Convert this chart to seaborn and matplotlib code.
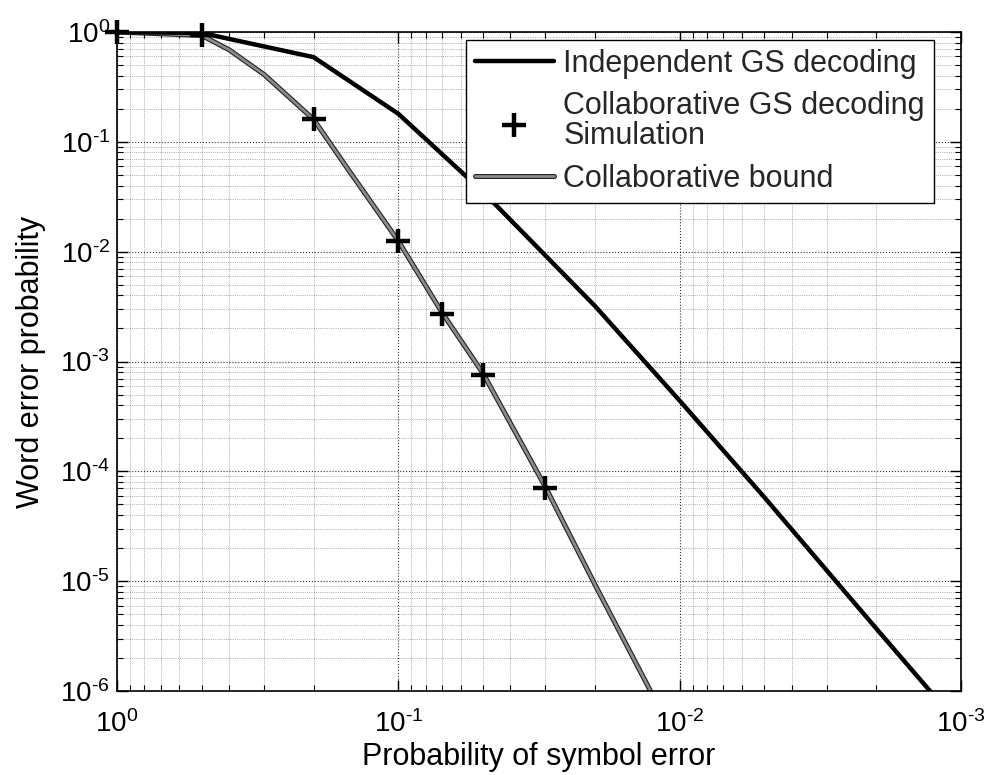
import numpy as np
import pandas as pd
import matplotlib
matplotlib.use("Agg")
import matplotlib.pyplot as plt
import matplotlib.patheffects as pe
from matplotlib.ticker import FixedLocator, FuncFormatter, NullFormatter
import seaborn as sns

# ---- data ----
indep_x = [1.0, 0.5, 0.2, 0.1, 0.05, 0.02, 0.01, 0.005, 0.002, 0.001]
indep_y = [1.0, 0.98, 0.59, 0.18, 0.035, 0.0032, 4.4e-4, 5.8e-5, 3.7e-6, 4.7e-7]

sim_x = [1.0, 0.5, 0.2, 0.1, 0.07, 0.05, 0.03]
sim_y = [1.0, 0.93, 0.16, 0.0126, 0.0027, 7.6e-4, 7.0e-5]

bound_x = [1.0, 0.5, 0.4, 0.3, 0.2, 0.15, 0.1, 0.07, 0.05, 0.03, 0.02, 0.01]
bound_y = [1.0, 0.93, 0.69, 0.41, 0.16, 0.055, 0.0125, 0.0028, 7.8e-4, 7.2e-5, 9.3e-6, 3.1e-7]

x_exponents = [0, -1, -2, -3]
y_exponents = [0, -1, -2, -3, -4, -5, -6]

labels = ["Independent GS decoding",
          "Collaborative GS decoding\nSimulation",
          "Collaborative bound"]
x_label = "Probability of symbol error"
y_label = "Word error probability"

indep = pd.DataFrame({"x": indep_x, "y": indep_y})
sim = pd.DataFrame({"x": sim_x, "y": sim_y})
bound = pd.DataFrame({"x": bound_x, "y": bound_y})

sns.set_theme(style="white")
plt.rcParams["font.family"] = ["Liberation Sans", "DejaVu Sans"]
plt.rcParams["mathtext.fontset"] = "custom"
plt.rcParams["mathtext.rm"] = "Liberation Sans"
plt.rcParams["mathtext.default"] = "regular"

fig = plt.figure(figsize=(9.91, 7.75), dpi=100)
ax = fig.add_axes([117 / 991, 1 - 691 / 775, (961 - 117) / 991, (691 - 32) / 775])

ax.set_xscale("log")
ax.set_yscale("log")

sns.lineplot(data=indep, x="x", y="y", ax=ax, sort=False, estimator=None,
             color="black", linewidth=3.2, label=labels[0], zorder=3)
sns.lineplot(data=bound, x="x", y="y", ax=ax, sort=False, estimator=None,
             color="#8a8a8a", linewidth=2.0, label=labels[2], zorder=2,
             path_effects=[pe.Stroke(linewidth=3.6, foreground="#222222"), pe.Normal()])
sns.scatterplot(data=sim, x="x", y="y", ax=ax, marker="+", s=300,
                color="black", linewidth=3.2, label=labels[1], zorder=4,
                clip_on=False)

ax.set_xlim(1, 1e-3)
ax.set_ylim(1e-6, 1)


def pow_fmt(v, pos):
    n = int(round(np.log10(v)))
    if n < 0:
        return r"$10^{\text{-}%d}$" % (-n)
    return r"$10^{%d}$" % n


def minor_positions(exps):
    lo, hi = min(exps), max(exps)
    return [m * 10.0 ** e for e in range(lo, hi) for m in range(2, 10)]


ax.xaxis.set_major_locator(FixedLocator([10.0 ** e for e in x_exponents]))
ax.yaxis.set_major_locator(FixedLocator([10.0 ** e for e in y_exponents]))
ax.xaxis.set_minor_locator(FixedLocator(minor_positions(x_exponents)))
ax.yaxis.set_minor_locator(FixedLocator(minor_positions(y_exponents)))
ax.xaxis.set_major_formatter(FuncFormatter(pow_fmt))
ax.yaxis.set_major_formatter(FuncFormatter(pow_fmt))
ax.xaxis.set_minor_formatter(NullFormatter())
ax.yaxis.set_minor_formatter(NullFormatter())

ax.grid(True, which="major", linestyle=":", color="black", linewidth=0.8, alpha=0.8)
ax.grid(True, which="minor", linestyle=":", color="black", linewidth=0.5, alpha=0.55)

ax.tick_params(which="both", direction="in", top=True, right=True,
               bottom=True, left=True, colors="black")
ax.tick_params(which="major", length=8, width=1.0, labelsize=20)
ax.tick_params(axis="x", which="major", pad=14)
ax.tick_params(axis="y", which="major", pad=5)
ax.tick_params(which="minor", length=4, width=0.8)

for s in ax.spines.values():
    s.set_color("black")
    s.set_linewidth(1.2)

ax.set_xlabel(x_label, fontsize=22, color="black", labelpad=3)
ax.set_ylabel(y_label, fontsize=22, color="black", labelpad=10)

h, l = ax.get_legend_handles_labels()
order = [l.index(lab) for lab in labels]
leg = ax.legend([h[i] for i in order], [l[i] for i in order],
                loc="upper right", bbox_to_anchor=((934 - 117) / 844, 1 - 8 / 659),
                bbox_transform=ax.transAxes,
                fontsize=22, frameon=True, fancybox=False, edgecolor="black",
                framealpha=1, handlelength=2.6, handletextpad=0.3,
                labelspacing=0.4, borderpad=0.3, borderaxespad=0)
for t in leg.get_texts():
    t.set_linespacing(1.0)
leg.get_frame().set_linewidth(1.0)
leg.set_zorder(10)

fig.savefig("out.png", dpi=100, facecolor="white")
